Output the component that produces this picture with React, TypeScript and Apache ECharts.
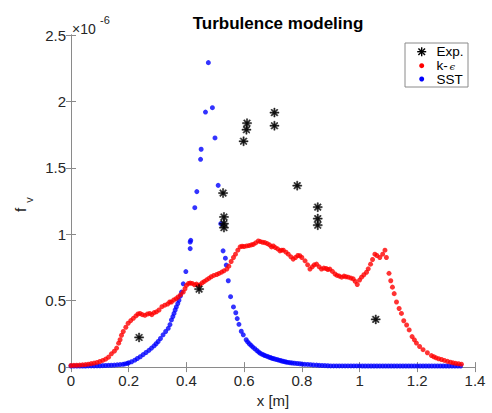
import React, { useEffect, useRef } from "react";
import * as echarts from "echarts";

// values in units of 1e-6
const expData: number[][] = [
  [0.236, 0.223], [0.444, 0.587], [0.527, 1.31], [0.53, 1.13], [0.53, 1.08], [0.53, 1.05],
  [0.61, 1.836], [0.608, 1.787], [0.598, 1.70], [0.705, 1.916], [0.705, 1.817],
  [0.784, 1.366], [0.855, 1.204], [0.855, 1.118], [0.855, 1.068], [1.056, 0.359],
];

const kepsData: number[][] = [
  [0, 0.012], [0.01, 0.013], [0.02, 0.014], [0.03, 0.015], [0.04, 0.017], [0.05, 0.019],
  [0.06, 0.022], [0.07, 0.026], [0.08, 0.03], [0.09, 0.035], [0.1, 0.042], [0.11, 0.05],
  [0.12, 0.06], [0.13, 0.075], [0.14, 0.1], [0.15, 0.12], [0.158, 0.143], [0.165, 0.18],
  [0.17, 0.206], [0.175, 0.24], [0.181, 0.268], [0.19, 0.3], [0.198, 0.33], [0.207, 0.35],
  [0.216, 0.367], [0.225, 0.385], [0.232, 0.4], [0.239, 0.404], [0.247, 0.395], [0.256, 0.39],
  [0.265, 0.4], [0.273, 0.404], [0.28, 0.395], [0.288, 0.41], [0.296, 0.416], [0.305, 0.43],
  [0.315, 0.455], [0.325, 0.466], [0.335, 0.475], [0.342, 0.49], [0.348, 0.49], [0.356, 0.505],
  [0.364, 0.515], [0.371, 0.528], [0.38, 0.545], [0.389, 0.565], [0.395, 0.59], [0.4, 0.615],
  [0.407, 0.63], [0.413, 0.632], [0.42, 0.63], [0.428, 0.62], [0.435, 0.625], [0.442, 0.615],
  [0.447, 0.62], [0.455, 0.635], [0.462, 0.645], [0.47, 0.657], [0.478, 0.668], [0.486, 0.68],
  [0.495, 0.69], [0.505, 0.697], [0.513, 0.705], [0.522, 0.715], [0.53, 0.725], [0.54, 0.738],
  [0.547, 0.76], [0.555, 0.795], [0.563, 0.825], [0.57, 0.85], [0.578, 0.88], [0.586, 0.905],
  [0.593, 0.91], [0.6, 0.908], [0.609, 0.912], [0.617, 0.915], [0.625, 0.92], [0.632, 0.924],
  [0.64, 0.935], [0.649, 0.949], [0.656, 0.945], [0.664, 0.94], [0.672, 0.937], [0.68, 0.93],
  [0.688, 0.92], [0.695, 0.905], [0.701, 0.912], [0.708, 0.9], [0.716, 0.89], [0.724, 0.875],
  [0.73, 0.88], [0.736, 0.88], [0.745, 0.865], [0.753, 0.85], [0.762, 0.83], [0.77, 0.813],
  [0.778, 0.825], [0.786, 0.84], [0.793, 0.838], [0.8, 0.825], [0.811, 0.8], [0.82, 0.77],
  [0.828, 0.738], [0.836, 0.755], [0.843, 0.77], [0.851, 0.775], [0.86, 0.755], [0.868, 0.738],
  [0.876, 0.745], [0.884, 0.742], [0.89, 0.735], [0.897, 0.738], [0.906, 0.72], [0.915, 0.701],
  [0.922, 0.69], [0.93, 0.685], [0.938, 0.677], [0.946, 0.685], [0.953, 0.68], [0.961, 0.677],
  [0.97, 0.67], [0.978, 0.664], [0.985, 0.645], [0.992, 0.622], [1.0, 0.655], [1.007, 0.677],
  [1.015, 0.695], [1.024, 0.714], [1.03, 0.74], [1.038, 0.775], [1.045, 0.81], [1.053, 0.85],
  [1.06, 0.84], [1.07, 0.825], [1.08, 0.85], [1.088, 0.88], [1.093, 0.825], [1.102, 0.706],
  [1.108, 0.65], [1.114, 0.602], [1.12, 0.553], [1.128, 0.49], [1.137, 0.441], [1.145, 0.404],
  [1.153, 0.349], [1.163, 0.317], [1.172, 0.28], [1.182, 0.23], [1.19, 0.205], [1.197, 0.181],
  [1.208, 0.155], [1.22, 0.131], [1.235, 0.108], [1.249, 0.087], [1.257, 0.078], [1.265, 0.07],
  [1.274, 0.063], [1.284, 0.057], [1.294, 0.05], [1.305, 0.043], [1.315, 0.037], [1.324, 0.032],
  [1.333, 0.028], [1.343, 0.025], [1.353, 0.022],
];

const sstData: number[][] = [
  [0, 0.008], [0.01, 0.008], [0.02, 0.008], [0.03, 0.008], [0.04, 0.008], [0.05, 0.008],
  [0.06, 0.009], [0.07, 0.009], [0.08, 0.009], [0.09, 0.01], [0.1, 0.01], [0.11, 0.011],
  [0.12, 0.012], [0.13, 0.013], [0.14, 0.014], [0.15, 0.015], [0.16, 0.017], [0.17, 0.019],
  [0.18, 0.021], [0.187, 0.024], [0.195, 0.028], [0.2, 0.032], [0.21, 0.04], [0.221, 0.052],
  [0.23, 0.065], [0.24, 0.078], [0.25, 0.094], [0.26, 0.11], [0.27, 0.126], [0.279, 0.143],
  [0.288, 0.16], [0.295, 0.176], [0.302, 0.193], [0.31, 0.215], [0.319, 0.243], [0.328, 0.268],
  [0.337, 0.292], [0.343, 0.32], [0.348, 0.355], [0.353, 0.38], [0.357, 0.404], [0.361, 0.43],
  [0.365, 0.453], [0.37, 0.478], [0.374, 0.503], [0.379, 0.535], [0.383, 0.565], [0.389, 0.627],
  [0.398, 0.719], [0.413, 0.892], [0.413, 0.942], [0.415, 0.954], [0.429, 1.2], [0.436, 1.321],
  [0.449, 1.564], [0.451, 1.64], [0.466, 1.92], [0.476, 2.292], [0.49, 1.953], [0.499, 1.725],
  [0.51, 1.368], [0.519, 1.08], [0.527, 0.875], [0.535, 0.82], [0.538, 0.768], [0.545, 0.65],
  [0.553, 0.53], [0.563, 0.453], [0.571, 0.409], [0.576, 0.365], [0.582, 0.322], [0.59, 0.27],
  [0.597, 0.243], [0.607, 0.206], [0.612, 0.19], [0.618, 0.176], [0.624, 0.163], [0.63, 0.151],
  [0.637, 0.138], [0.644, 0.125], [0.65, 0.114], [0.655, 0.105], [0.661, 0.098], [0.667, 0.092],
  [0.672, 0.087], [0.678, 0.082], [0.684, 0.077], [0.69, 0.072], [0.695, 0.068], [0.7, 0.065],
  [0.706, 0.061], [0.713, 0.057], [0.719, 0.053], [0.725, 0.05], [0.73, 0.046], [0.736, 0.043],
  [0.742, 0.04], [0.747, 0.037], [0.753, 0.035], [0.76, 0.033], [0.767, 0.031], [0.775, 0.029],
  [0.784, 0.027], [0.793, 0.025], [0.801, 0.023], [0.81, 0.021], [0.82, 0.02], [0.83, 0.018],
  [0.84, 0.016], [0.851, 0.015], [0.86, 0.013], [0.87, 0.012], [0.88, 0.011], [0.89, 0.01],
  [0.9, 0.009], [0.91, 0.009], [0.92, 0.009], [0.93, 0.009], [0.94, 0.009], [0.95, 0.009],
  [0.96, 0.009], [0.97, 0.009], [0.98, 0.009], [0.99, 0.009], [1.0, 0.009], [1.01, 0.008],
  [1.02, 0.008], [1.03, 0.008], [1.04, 0.008], [1.05, 0.008], [1.06, 0.008], [1.07, 0.008],
  [1.08, 0.008], [1.09, 0.008], [1.1, 0.008], [1.11, 0.008], [1.12, 0.008], [1.13, 0.008],
  [1.14, 0.008], [1.15, 0.008], [1.16, 0.008], [1.17, 0.008], [1.18, 0.008], [1.19, 0.008],
  [1.2, 0.008], [1.21, 0.008], [1.22, 0.008], [1.23, 0.008], [1.24, 0.008], [1.25, 0.008],
  [1.26, 0.008], [1.27, 0.008], [1.28, 0.008], [1.29, 0.008], [1.3, 0.008], [1.31, 0.008],
  [1.32, 0.008], [1.33, 0.008], [1.34, 0.008], [1.35, 0.008],
];

const legendLabels = ["Exp.", "k-", "SST"];

const STAR =
  "path://M0,4.3L10,4.3L10,5.7L0,5.7Z M4.3,0L5.7,0L5.7,10L4.3,10Z " +
  "M1.005,1.995L1.995,1.005L8.995,8.005L8.005,8.995Z " +
  "M8.005,1.005L8.995,1.995L1.995,8.995L1.005,8.005Z";

const FONT = "'Liberation Sans', Arial, Helvetica, sans-serif";
const AXIS_COLOR = "#8a8a8a";
const TEXT_COLOR = "#262626";

export default function App() {
  const ref = useRef<HTMLDivElement>(null);
  useEffect(() => {
    document.body.style.margin = "0";
    if (!ref.current) return;
    const chart = echarts.init(ref.current, undefined, { renderer: "svg" });
    const tickCommon = { show: true, inside: true, length: 5, lineStyle: { color: AXIS_COLOR } };
    const lineCommon = { show: true, lineStyle: { color: AXIS_COLOR, width: 1 } };
    const lx = 421.7;
    const ly = 51.7;
    const starLine = (x1: number, y1: number, x2: number, y2: number) => ({
      type: "line",
      z: 12,
      shape: { x1: lx + x1, y1: ly + y1, x2: lx + x2, y2: ly + y2 },
      style: { stroke: "#000", lineWidth: 1.4 },
    });
    const legendText = (text: string, x: number, y: number, font: string) => ({
      type: "text", z: 12, x, y,
      style: { text, font, fill: "#000", align: "left", verticalAlign: "middle" },
    });
    chart.setOption({
      animation: false,
      backgroundColor: "#fff",
      title: {
        text: "Turbulence modeling",
        left: 273,
        textAlign: "center",
        top: 10,
        textStyle: { fontFamily: FONT, fontSize: 17, fontWeight: "bold", color: "#000" },
      },
      grid: { left: 71, top: 35, width: 404, height: 336, containLabel: false },
      xAxis: [
        {
          type: "value", min: 0, max: 1.4, interval: 0.2, position: "bottom",
          axisLine: lineCommon, axisTick: tickCommon, splitLine: { show: false },
          axisLabel: { fontFamily: FONT, fontSize: 15, color: TEXT_COLOR, margin: 6 },
          name: "x [m]", nameLocation: "middle", nameGap: 22,
          nameTextStyle: { fontFamily: FONT, fontSize: 15, color: TEXT_COLOR },
        },
        {
          type: "value", min: 0, max: 1.4, interval: 0.2, position: "top",
          axisLine: lineCommon, axisTick: tickCommon, splitLine: { show: false },
          axisLabel: { show: false },
        },
      ],
      yAxis: [
        {
          type: "value", min: 0, max: 2.5, interval: 0.5, position: "left",
          axisLine: lineCommon, axisTick: tickCommon, splitLine: { show: false },
          axisLabel: { fontFamily: FONT, fontSize: 15, color: TEXT_COLOR, margin: 5 },
        },
        {
          type: "value", min: 0, max: 2.5, interval: 0.5, position: "right",
          axisLine: lineCommon, axisTick: tickCommon, splitLine: { show: false },
          axisLabel: { show: false },
        },
      ],
      series: [
        {
          name: "SST", type: "scatter", data: sstData, symbol: "circle", symbolSize: 5,
          itemStyle: { color: "#0000ff" }, z: 2,
        },
        {
          name: "k-eps", type: "scatter", data: kepsData, symbol: "circle", symbolSize: 5,
          itemStyle: { color: "#ff0000" }, z: 3,
        },
        {
          name: "Exp.", type: "scatter", data: expData, symbol: STAR, symbolSize: 9,
          itemStyle: { color: "#000", borderColor: "#000", borderWidth: 0.5 }, z: 4,
        },
      ],
      graphic: [
        {
          type: "text", left: 72, top: 22,
          style: { text: "×10", font: `14px ${FONT}`, fill: TEXT_COLOR },
        },
        {
          type: "text", left: 100, top: 14,
          style: { text: "-6", font: `11px ${FONT}`, fill: TEXT_COLOR },
        },
        {
          type: "text", x: 28, y: 210, rotation: Math.PI / 2,
          style: { text: "f", font: `15px ${FONT}`, fill: TEXT_COLOR, align: "center", verticalAlign: "bottom" },
        },
        {
          type: "text", x: 34, y: 200, rotation: Math.PI / 2,
          style: { text: "v", font: `11px ${FONT}`, fill: TEXT_COLOR, align: "center", verticalAlign: "bottom" },
        },
        {
          type: "rect", z: 10, shape: { x: 405, y: 43, width: 63, height: 44 },
          style: { fill: "#fff", stroke: AXIS_COLOR, lineWidth: 1 },
        },
        starLine(-4.5, 0, 4.5, 0),
        starLine(0, -4.5, 0, 4.5),
        starLine(-3.3, -3.3, 3.3, 3.3),
        starLine(-3.3, 3.3, 3.3, -3.3),
        { type: "circle", z: 12, shape: { cx: lx, cy: 65.7, r: 2.5 }, style: { fill: "#ff0000" } },
        { type: "circle", z: 12, shape: { cx: lx, cy: 79, r: 2.5 }, style: { fill: "#0000ff" } },
        legendText(legendLabels[0], 436.5, 51.6, `13.5px ${FONT}`),
        legendText(legendLabels[1], 436.5, 65.4, `13.5px ${FONT}`),
        legendText("ϵ", 449.5, 66.2, `italic 10px 'DejaVu Serif', serif`),
        legendText(legendLabels[2], 436.5, 79.3, `13.5px ${FONT}`),
      ],
    });
    return () => chart.dispose();
  }, []);
  return (
    <div
      ref={ref}
      style={{ position: "fixed", left: 0, top: 0, width: 492, height: 413, background: "#fff" }}
    />
  );
}
